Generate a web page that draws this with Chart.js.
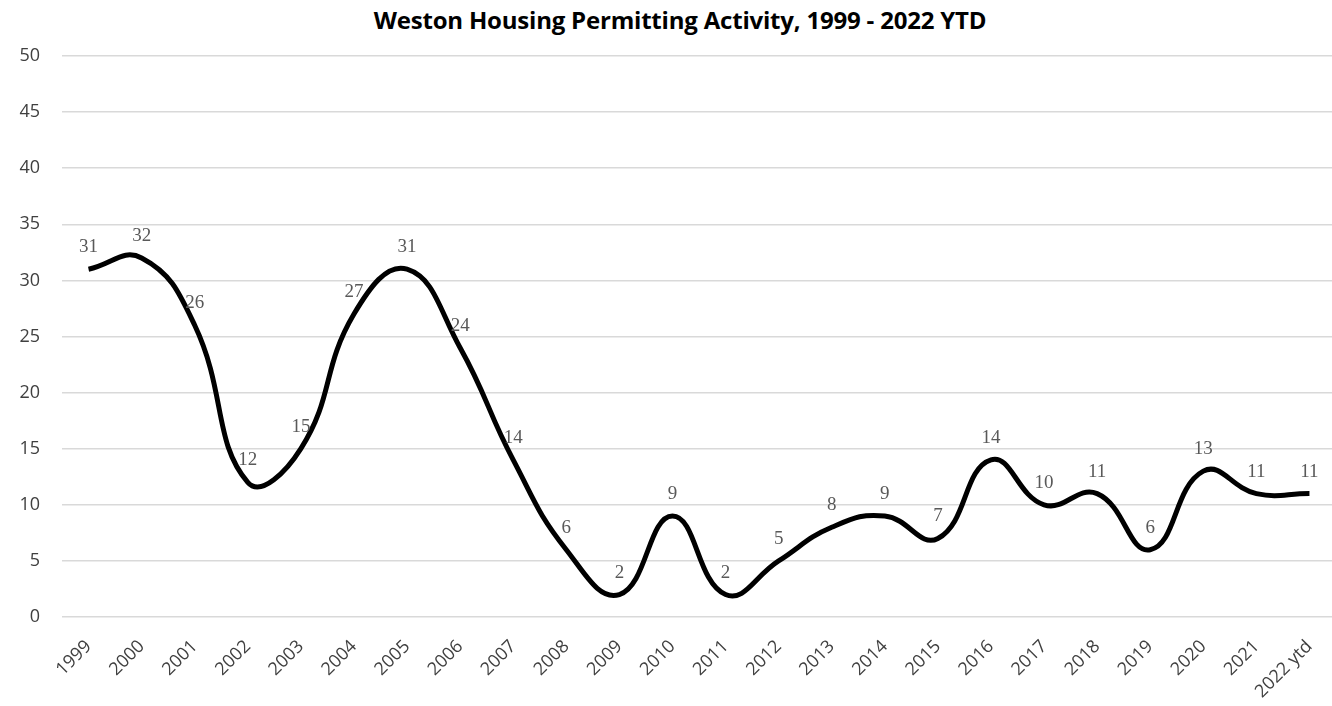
<!DOCTYPE html>
<html>
<head>
<meta charset="utf-8">
<script src="https://cdn.jsdelivr.net/npm/chart.js@4"></script>
<style>
  html, body { margin: 0; padding: 0; background: #fff; overflow: hidden; }
  #wrap { position: relative; width: 1332px; height: 706px; overflow: hidden; }
  #title { position: absolute; left: 0; top: 3px; width: 1360px; text-align: center;
           font-family: "Open Sans", sans-serif; font-weight: 700; font-size: 24px; color: #000; letter-spacing: -0.2px; }
  canvas { position: absolute; left: 0; top: 0; }
</style>
</head>
<body>
<div id="wrap">
  <div id="title">Weston Housing Permitting Activity, 1999 - 2022 YTD</div>
  <canvas id="c" width="1336" height="706"></canvas>
</div>
<script>
const years = ["1999","2000","2001","2002","2003","2004","2005","2006","2007","2008","2009","2010","2011","2012","2013","2014","2015","2016","2017","2018","2019","2020","2021","2022 ytd"];
const permits = [31,32,26,12,15,27,31,24,14,6,2,9,2,5,8,9,7,14,10,11,6,13,11,11];
const yMin = 0;
const yMax = 50;
const yStep = 5;

const labelPlugin = {
  id: 'pointLabels',
  afterDatasetsDraw(chart) {
    const ctx = chart.ctx;
    const meta = chart.getDatasetMeta(0);
    ctx.save();
    ctx.font = '19px "Liberation Serif", serif';
    ctx.fillStyle = '#595959';
    ctx.textAlign = 'center';
    ctx.textBaseline = 'middle';
    meta.data.forEach((pt, i) => {
      ctx.fillText(String(permits[i]), pt.x, pt.y - 22);
    });
    ctx.restore();
  }
};

new Chart(document.getElementById('c'), {
  type: 'line',
  data: {
    labels: years,
    datasets: [{
      data: permits,
      borderColor: '#000',
      borderWidth: 5,
      tension: 0.45,
      pointRadius: 0,
      fill: false,
      borderCapStyle: 'butt',
      borderJoinStyle: 'round'
    }]
  },
  options: {
    responsive: false,
    animation: false,
    devicePixelRatio: 1,
    layout: { padding: { top: 56, right: 0, left: 0, bottom: 0 } },
    plugins: { legend: { display: false }, tooltip: { enabled: false }, title: { display: false } },
    scales: {
      x: {
        offset: true,
        grid: { display: false },
        border: { display: false },
        ticks: {
          color: '#404040',
          font: { family: '"Open Sans", sans-serif', size: 18 },
          maxRotation: 45, minRotation: 45,
          autoSkip: false,
          padding: 11
        },
        afterFit(scale) { scale.height = 89; }
      },
      y: {
        min: yMin, max: yMax,
        grid: { color: '#d9d9d9', lineWidth: 1.5, drawTicks: false },
        border: { display: false },
        ticks: {
          stepSize: yStep,
          color: '#404040',
          font: { family: '"Open Sans", sans-serif', size: 18 },
          padding: 22
        },
        afterFit(scale) { scale.width = 62; }
      }
    }
  },
  plugins: [labelPlugin]
});
</script>
</body>
</html>
